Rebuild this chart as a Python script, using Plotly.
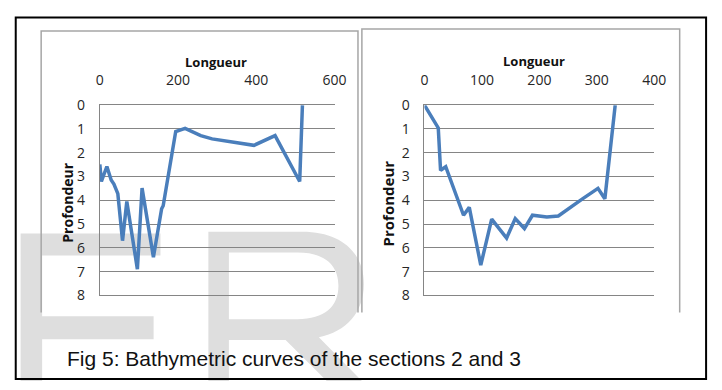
import plotly.graph_objects as go

# Section 2 (left chart)
s2_longueur = [0, 4, 18, 29, 36, 46, 58, 69, 96, 108, 137, 158, 162, 194, 218, 258, 287, 337, 394, 448, 511, 518]
s2_profondeur = [2.49, 3.21, 2.58, 3.15, 3.32, 3.72, 5.70, 4.05, 6.90, 3.49, 6.39, 4.36, 4.23, 1.11, 0.98, 1.28, 1.42, 1.54, 1.69, 1.28, 3.21, 0]

# Section 3 (right chart)
s3_longueur = [0, 24, 28, 37, 68, 78, 98, 117, 143, 158, 174, 188, 213, 233, 275, 302, 314, 332]
s3_profondeur = [0, 0.96, 2.74, 2.59, 4.63, 4.30, 6.73, 4.79, 5.59, 4.77, 5.19, 4.63, 4.70, 4.66, 3.94, 3.50, 3.94, 0]

x_ticks_left = [0, 200, 400, 600]
x_ticks_right = [0, 100, 200, 300, 400]
y_ticks = [0, 1, 2, 3, 4, 5, 6, 7, 8]

axis_title_x = "Longueur"
axis_title_y = "Profondeur"
caption = "Fig 5: Bathymetric curves of the sections 2 and 3"

W, H = 722, 390


def px(x):
    return x / W


def py(y):
    return 1 - y / H


LINE = "#4a7ebb"
GRID = "#858585"
TICKFONT = dict(family="Open Sans", size=14, color="#262626")

fig = go.Figure()
fig.add_trace(go.Scatter(x=s2_longueur, y=s2_profondeur, mode="lines",
                         line=dict(color=LINE, width=3.5), xaxis="x", yaxis="y",
                         showlegend=False, hoverinfo="skip"))
fig.add_trace(go.Scatter(x=s3_longueur, y=s3_profondeur, mode="lines",
                         line=dict(color=LINE, width=3.5), xaxis="x2", yaxis="y2",
                         showlegend=False, hoverinfo="skip"))

xcommon = dict(side="top", showgrid=False, zeroline=False, showline=True, mirror=True,
               linecolor=GRID, linewidth=1, ticks="", tickfont=TICKFONT,
               ticklabelstandoff=14, fixedrange=True)
ycommon = dict(range=[8, 0], tickvals=y_ticks, showgrid=True, gridcolor=GRID, gridwidth=1,
               zeroline=False, showline=True, linecolor=GRID, linewidth=1, ticks="",
               tickfont=TICKFONT, ticklabelstandoff=11, fixedrange=True)

fig.update_layout(
    width=W, height=H,
    margin=dict(l=0, r=0, t=0, b=0),
    paper_bgcolor="white",
    plot_bgcolor="rgba(0,0,0,0)",
    xaxis=dict(domain=[px(98), px(338)], range=[0, 600], tickvals=x_ticks_left,
               anchor="y", **xcommon),
    yaxis=dict(domain=[py(300), py(100)], anchor="x", **ycommon),
    xaxis2=dict(domain=[px(430), px(665)], range=[0, 400], tickvals=x_ticks_right,
                anchor="y2", **xcommon),
    yaxis2=dict(domain=[py(300), py(100)], anchor="x2", **ycommon),
)

WM = "#dedede"
# watermark letters (decoration), drawn below everything
e_path = ("M {a},{b} L {c},{b} L {c},{d} L {e},{d} L {e},{f} L {g},{f} L {g},{h} "
          "L {e},{h} L {e},{i} L {a},{i} Z").format(
    a=px(17), b=py(235), c=px(160), d=py(258), e=px(39), f=py(322), g=px(153), h=py(346), i=py(390))
r_outer = ("M {0},{1} L {2},{1} C {3},{1} {4},{5} {4},{6} C {4},{7} {8},{9} {10},{11} "
           "L {12},{13} L {14},{13} L {15},{16} L {17},{16} L {17},{13} L {0},{13} Z").format(
    px(209), py(233), px(305), px(345), px(368), py(255), py(288), py(318), px(350), py(338),
    px(322), py(344), px(366), py(390), px(330), px(288), py(347), px(230))
r_inner = ("M {0},{1} L {2},{1} C {3},{1} {4},{5} {4},{6} C {4},{7} {3},{8} {2},{8} "
           "L {0},{8} Z").format(
    px(230), py(255), px(300), px(328), px(342), py(268), py(290), py(312), py(325))

shapes = [
    dict(type="path", xref="paper", yref="paper", path=e_path, fillcolor=WM,
         line=dict(width=0), layer="below"),
    dict(type="path", xref="paper", yref="paper", path=r_outer + " " + r_inner, fillcolor=WM,
         fillrule="evenodd", line=dict(width=0), layer="below"),
    # chart frames
    dict(type="path", xref="paper", yref="paper",
         path="M {0},{1} L {0},{2} L {3},{2} L {3},{1}".format(px(38), py(318), py(22), px(362)),
         line=dict(color="#a6a6a6", width=1.5), layer="below"),
    dict(type="path", xref="paper", yref="paper",
         path="M {0},{1} L {0},{2} L {3},{2} L {3},{1}".format(px(366), py(318), py(20), px(691)),
         line=dict(color="#a6a6a6", width=1.5), layer="below"),
    # outer black border
    dict(type="rect", xref="paper", yref="paper", x0=px(12), x1=px(718), y0=py(388), y1=py(8),
         line=dict(color="black", width=2), layer="above"),
]
fig.update_layout(shapes=shapes)

TITLEFONT = dict(family="Open Sans", size=13, color="#111111", weight="bold")
ann = [
    dict(text=axis_title_x, x=px(217), y=py(55), font=TITLEFONT),
    dict(text=axis_title_x, x=px(542), y=py(54), font=TITLEFONT),
    dict(text=axis_title_y, x=px(65), y=py(203), textangle=-90,
         font=dict(family="Open Sans", size=14, color="#111111", weight="bold")),
    dict(text=axis_title_y, x=px(393), y=py(203), textangle=-90,
         font=dict(family="Open Sans", size=15, color="#111111", weight="bold")),
    dict(text=caption, x=px(62), y=py(366), xanchor="left",
         font=dict(family="Liberation Sans", size=21, color="#111111")),
]
for a in ann:
    a.setdefault("xanchor", "center")
    a.update(xref="paper", yref="paper", yanchor="middle", showarrow=False)
fig.update_layout(annotations=ann)

fig.write_html("out.html")
